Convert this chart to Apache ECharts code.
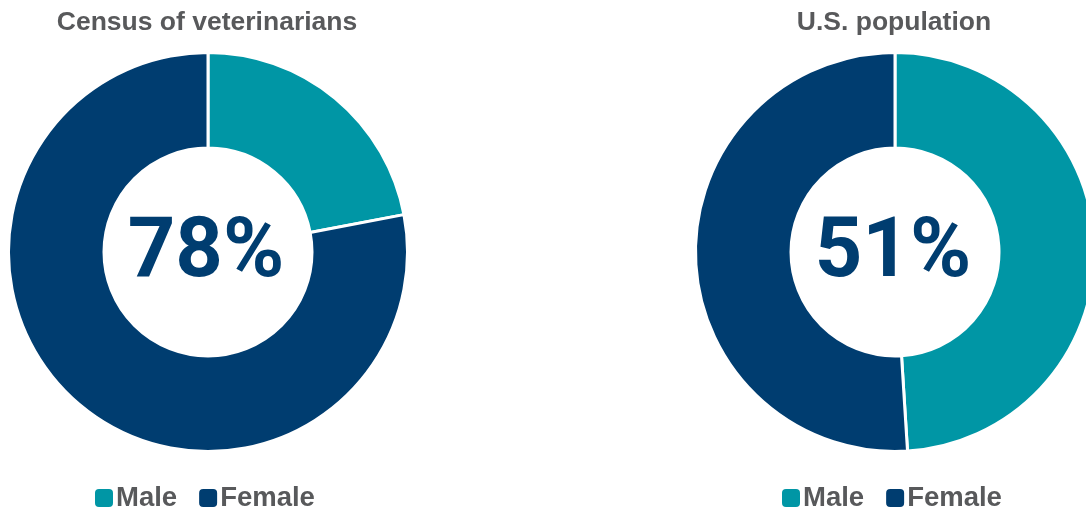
<!DOCTYPE html>
<html>
<head>
<meta charset="utf-8">
<style>
  html, body { margin: 0; padding: 0; background: #ffffff; }
  #chart { width: 1086px; height: 508px; }
</style>
<script src="https://cdn.jsdelivr.net/npm/echarts@6/dist/echarts.min.js"></script>
</head>
<body>
<div id="chart"></div>
<script>
// Gender split, percent
const categories = ['Male', 'Female'];
const chartTitles = ['Census of veterinarians', 'U.S. population'];
const veterinarians = [22, 78];
const usPopulation = [49, 51];

const TEAL = '#0096a5';
const NAVY = '#003d70';
const GREY = '#58595b';
const FONT = '"Liberation Sans", Arial, sans-serif';
const BIG_FONT = 'Roboto, "Liberation Sans", sans-serif';

const centersX = [208, 895];
const centerY = 252;
const seriesValues = [veterinarians, usPopulation];

const chart = echarts.init(document.getElementById('chart'), null, { renderer: 'canvas' });

const titles = [];
const legends = [];
const series = [];

seriesValues.forEach((vals, i) => {
  const cx = centersX[i];
  // chart heading
  titles.push({
    text: chartTitles[i],
    left: cx - 1,
    top: 9,
    padding: 0,
    textAlign: 'center',
    textStyle: { color: GREY, fontFamily: FONT, fontWeight: 'bold', fontSize: 26.5 }
  });
  // female share in the middle of the ring
  titles.push({
    text: vals[1] + '%',
    left: cx - 2,
    top: centerY - 38,
    padding: 0,
    textAlign: 'center',
    textStyle: { color: NAVY, fontFamily: BIG_FONT, fontWeight: 'bold', fontSize: 83 }
  });
  legends.push({
    data: categories,
    left: cx - 115,
    top: 484,
    icon: 'roundRect',
    itemWidth: 20,
    itemHeight: 20,
    itemGap: 20,
    padding: 0,
    selectedMode: false,
    textStyle: { color: GREY, fontFamily: FONT, fontWeight: 'bold', fontSize: 27.5, padding: [0, 0, 0, -3] }
  });
  series.push({
    type: 'pie',
    center: [cx, centerY],
    radius: [104, 199.5],
    startAngle: 90,
    clockwise: true,
    silent: true,
    animation: false,
    label: { show: false },
    labelLine: { show: false },
    itemStyle: { borderColor: '#ffffff', borderWidth: 3 },
    data: categories.map((name, k) => ({
      name,
      value: vals[k],
      itemStyle: { color: k === 0 ? TEAL : NAVY }
    }))
  });
});

chart.setOption({
  backgroundColor: '#ffffff',
  animation: false,
  color: [TEAL, NAVY],
  title: titles,
  legend: legends,
  series: series
});
</script>
</body>
</html>
